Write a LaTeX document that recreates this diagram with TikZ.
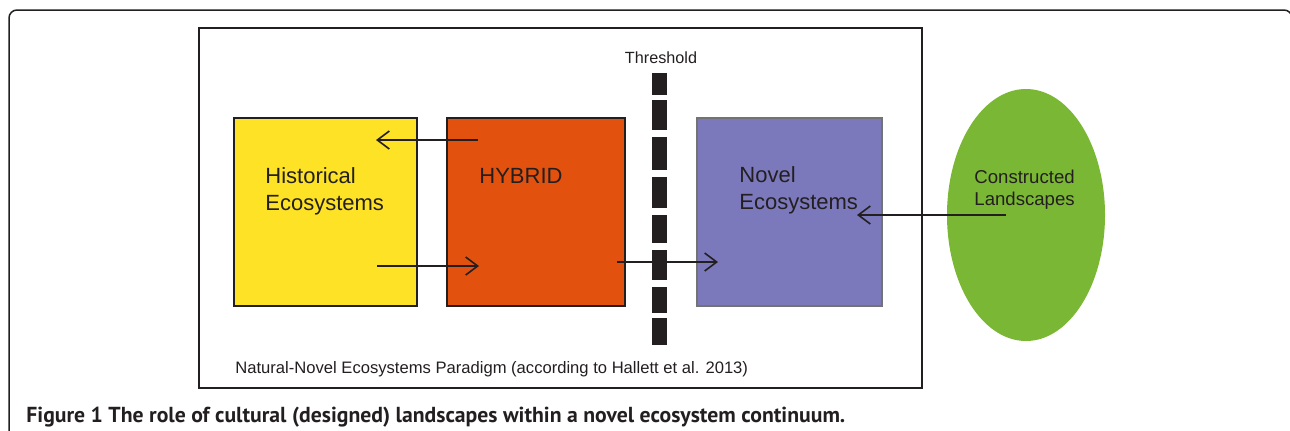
\documentclass[tikz,border=0pt]{standalone}
\usepackage{fontspec}
\setmainfont{Liberation Sans}
\newfontfamily\capfont{PT Sans}
\usetikzlibrary{arrows.meta,shapes.geometric}
\definecolor{histyellow}{RGB}{253,226,38}
\definecolor{hybridorange}{RGB}{226,82,14}
\definecolor{novelpurple}{RGB}{123,121,187}
\definecolor{landgreen}{RGB}{122,183,52}
\definecolor{inkgray}{RGB}{35,31,32}
\tikzset{
	ecobox/.style={draw=inkgray, line width=1pt, inner sep=0pt, outer sep=0pt, minimum height=94pt},
	ecotext/.style={anchor=base west, align=left, inner sep=0pt, text=inkgray, font=\fontsize{11}{13.5}\selectfont},
	flow/.style={line width=0.8pt, color=inkgray, -{Straight Barb[length=6pt,width=9pt,line width=0.8pt]}},
	bar/.style={fill=inkgray}
}

\begin{document}
\begin{tikzpicture}[x=0.5pt, y=-0.5pt]
		%%%%% START %%%%%
		\useasboundingbox (0, 0) rectangle (1290, 430);
		\clip (0, 0) rectangle (1290, 430);
		
		\draw[line width=0.75pt, color=inkgray, rounded corners=4pt] (9, 10) rectangle (1292, 470);
		\draw[line width=1pt, color=inkgray] (199, 28) rectangle (922, 388);
		
		\node[ecobox, fill=histyellow, minimum width=91.5pt] (hist) at (325.5, 212) {};
		\node[ecobox, fill=hybridorange, minimum width=89pt] (hybrid) at (536, 212) {};
		\node[ecobox, fill=novelpurple, draw=black!55, line width=0.6pt, minimum width=92.5pt] (novel) at (789.5, 212) {};
		\node[ellipse, fill=landgreen, inner sep=0pt, minimum width=79pt, minimum height=126pt] (land) at (1026, 215) {};
		
		% two-line labels sit on their last baseline
		\node[ecotext] (histtext) at (265, 210) {Historical\\Ecosystems};
		\node[ecotext] (hybridtext) at (479, 183) {HYBRID};
		\node[ecotext] (noveltext) at (739, 209) {Novel\\Ecosystems};
		\node[ecotext, font=\fontsize{9.3}{11}\selectfont] (landtext) at (974, 205) {Constructed\\Landscapes};
		
		\node[anchor=base, inner sep=0pt, text=inkgray, font=\fontsize{8.1}{10}\selectfont] (threshold) at (661, 63) {Threshold};
		
		% threshold bar
		\fill[bar] (652, 73) rectangle (667, 95);
		\fill[bar] (652, 100) rectangle (667, 130);
		\fill[bar] (652, 137) rectangle (667, 170);
		\fill[bar] (652, 177) rectangle (667, 208);
		\fill[bar] (652, 215) rectangle (667, 243);
		\fill[bar] (652, 250) rectangle (667, 280);
		\fill[bar] (652, 287) rectangle (667, 313);
		\fill[bar] (652, 318) rectangle (667, 345);
		
		\coordinate (backtail) at (478, 140);
		\coordinate (backhead) at (376, 140);
		\coordinate (fwdtail) at (377, 266);
		\coordinate (fwdhead) at (479, 266);
		\coordinate (crosstail) at (617, 262);
		\coordinate (crosshead) at (718, 262);
		\coordinate (landtail) at (1006, 215);
		\coordinate (landhead) at (857, 215);
		
		\draw[flow] (backtail) -- (backhead);
		\draw[flow] (fwdtail) -- (fwdhead);
		\draw[flow] (crosstail) -- (crosshead);
		\draw[flow] (landtail) -- (landhead);
		
		\node[anchor=base west, inner sep=0pt, text=inkgray, font=\fontsize{8.3}{10}\selectfont] (paradigm) at (235, 373) {Natural-Novel Ecosystems Paradigm (according to Hallett et al. 2013)};
		
		\node[anchor=base west, inner sep=0pt, text=inkgray, font=\capfont\bfseries\fontsize{10.85}{13}\selectfont] (caption) at (26, 422) {Figure 1 The role of cultural (designed) landscapes within a novel ecosystem continuum.};
		
		%%%%% END %%%%%
\end{tikzpicture}
\end{document}
